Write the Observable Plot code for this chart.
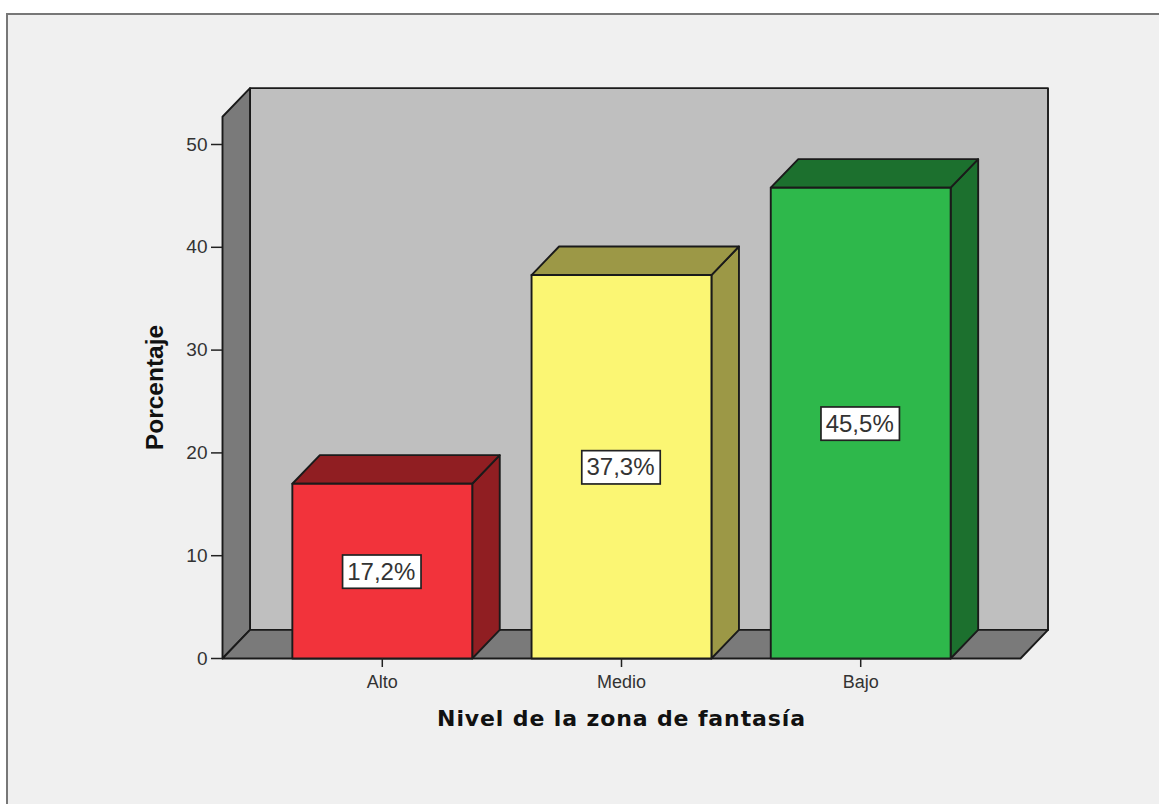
<!DOCTYPE html>
<html lang="es">
<head>
<meta charset="utf-8">
<script src="https://cdn.jsdelivr.net/npm/d3@7"></script>
<script src="https://cdn.jsdelivr.net/npm/@observablehq/plot@0.6"></script>
<style>
html,body{margin:0;padding:0;background:#fff;overflow:hidden}
#panel{position:absolute;left:6px;top:13px;right:0;bottom:0;background:#f0f0f0;border-left:2px solid #777;border-top:2px solid #777}
#chart{position:absolute;left:0;top:0}
.xtitle text{letter-spacing:0.88px}
</style>
</head>
<body>
<div id="panel"></div>
<div id="chart"></div>
<script>
const categories = ["Alto", "Medio", "Bajo"];
const barHeights = [17.0, 37.3, 45.8];
const barLabels = ["17,2%", "37,3%", "45,5%"];
const frontColors = ["#f2333b", "#fbf673", "#2eb84b"];
const sideColors = ["#901e22", "#9c9846", "#1c702e"];
const yTicks = [0, 10, 20, 30, 40, 50];

const wallColor = "#bfbfbf", shadeColor = "#7a7a7a", edge = "#1a1a1a";
const depthX = 0.115, depthY = 2.78;
const halfBar = 0.376;
const xMin = -0.668, xMax = 2.668, yWallTop = 52.7;

const face = (pts, fill) => Plot.line([...pts, pts[0]], {
  x: d => d[0], y: d => d[1], fill, stroke: edge, strokeWidth: 1.9,
  strokeLinejoin: "round", curve: "linear"
});

const walls = [
  face([[xMin + depthX, depthY], [xMax + depthX, depthY], [xMax + depthX, yWallTop + depthY], [xMin + depthX, yWallTop + depthY]], wallColor),
  face([[xMin, 0], [xMin + depthX, depthY], [xMin + depthX, yWallTop + depthY], [xMin, yWallTop]], shadeColor),
  face([[xMin, 0], [xMax, 0], [xMax + depthX, depthY], [xMin + depthX, depthY]], shadeColor)
];

const bars = categories.flatMap((c, i) => {
  const l = i - halfBar, r = i + halfBar, h = barHeights[i];
  return [
    face([[r, 0], [r + depthX, depthY], [r + depthX, h + depthY], [r, h]], sideColors[i]),
    face([[l, h], [r, h], [r + depthX, h + depthY], [l + depthX, h + depthY]], sideColors[i]),
    face([[l, 0], [r, 0], [r, h], [l, h]], frontColors[i])
  ];
});

const labelRows = categories.map((c, i) => ({i, y: barHeights[i] / 2 - 0.1, label: barLabels[i]}));

const chart = Plot.plot({
  width: 1159, height: 804,
  marginLeft: 222, marginRight: 139, marginTop: 144, marginBottom: 146,
  style: {background: "transparent", fontFamily: "'Liberation Sans', Arial, sans-serif"},
  x: {domain: [xMin, xMax], label: null},
  y: {domain: [0, 50], label: null},
  marks: [
    ...walls,
    ...bars,
    Plot.rect(labelRows, {
      x1: d => d.i - 0.164, x2: d => d.i + 0.164,
      y1: d => d.y - 1.62, y2: d => d.y + 1.62,
      fill: "white", stroke: "#222", strokeWidth: 1.7
    }),
    Plot.text(labelRows, {x: "i", y: "y", text: "label", fontSize: 24, fill: "#333", dx: -1}),
    Plot.axisY(yTicks, {anchor: "left", tickSize: 11, tickPadding: 4, fontSize: 19, label: null, stroke: "#222", strokeWidth: 1.5, fill: "#333"}),
    Plot.axisX([0, 1, 2], {anchor: "bottom", tickSize: 9, tickPadding: 8, fontSize: 18, label: null, tickFormat: d => categories[d], stroke: "#222", strokeWidth: 1.5, fill: "#333"}),
    Plot.text(["Porcentaje"], {frameAnchor: "left", textAnchor: "middle", dx: -67, dy: -14, rotate: -90, fontSize: 24.5, fontWeight: "bold", fill: "#111"}),
    Plot.text(["Nivel de la zona de fantasía"], {frameAnchor: "bottom", dy: 67, fontSize: 22, fontWeight: "bold", fontFamily: "'DejaVu Sans', sans-serif", fill: "#111", className: "xtitle"})
  ]
});
document.getElementById("chart").append(chart);
</script>
</body>
</html>
